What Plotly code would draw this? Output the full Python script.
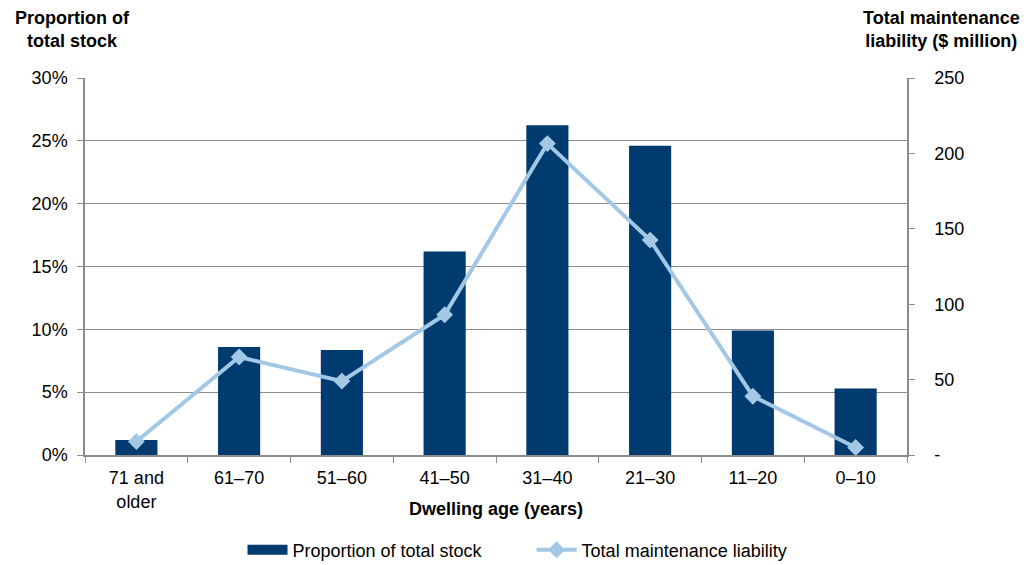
import plotly.graph_objects as go

categories = ["71 and<br>older", "61–70", "51–60", "41–50", "31–40", "21–30", "11–20", "0–10"]
stock_share = [1.2, 8.6, 8.35, 16.2, 26.25, 24.6, 9.9, 5.3]          # % of total stock
liability = [9, 65, 49, 93, 206.5, 142.5, 39, 5]                     # $ million

left_ticks = [0, 5, 10, 15, 20, 25, 30]
left_labels = ["0%", "5%", "10%", "15%", "20%", "25%", "30%"]
right_ticks = [0, 50, 100, 150, 200, 250]
right_labels = ["-", "50", "100", "150", "200", "250"]

BAR = "#003B6F"
LINE = "#A2C8E5"
GRID = "#8C8C8C"
FONT = "Liberation Sans, Arial, sans-serif"
FS = 18
PAD = "\u00a0" * 9

fig = go.Figure()
fig.add_trace(go.Bar(
    x=categories, y=stock_share, name="Proportion of total stock",
    marker=dict(color=BAR, line=dict(width=0)), width=0.41, yaxis="y",
    showlegend=False,
))
# legend swatch for the bars: a wide flat block
fig.add_trace(go.Scatter(
    x=[None], y=[None], name="Proportion of total stock" + PAD, mode="lines",
    line=dict(color=BAR, width=11), yaxis="y",
))
fig.add_trace(go.Scatter(
    x=categories, y=liability, name="Total maintenance liability",
    mode="lines+markers", line=dict(color=LINE, width=4),
    marker=dict(symbol="diamond", size=13, color=LINE), yaxis="y2",
))

fig.update_layout(
    width=1035, height=565,
    margin=dict(l=85, r=128, t=78, b=110, autoexpand=False),
    paper_bgcolor="white", plot_bgcolor="white",
    font=dict(family=FONT, size=FS, color="#000000"),
    showlegend=True,
    legend=dict(orientation="h", x=0.5, xanchor="center", xref="container",
                y=1 - 550 / 565, yanchor="middle", yref="container",
                font=dict(size=FS), traceorder="normal", itemwidth=40,
                tracegroupgap=0),
    xaxis=dict(
        showline=True, linecolor=GRID, linewidth=1.5,
        ticks="outside", tickson="boundaries", ticklen=6, tickcolor=GRID,
        tickfont=dict(size=FS), showgrid=False, ticklabelstandoff=6,
    ),
    yaxis=dict(
        range=[0, 30], tickvals=left_ticks, ticktext=left_labels,
        showgrid=True, gridcolor=GRID, gridwidth=1,
        showline=True, linecolor=GRID, linewidth=1.5,
        ticks="outside", ticklen=6, tickcolor=GRID, tickfont=dict(size=FS),
        ticklabelstandoff=6, zeroline=False,
    ),
    yaxis2=dict(
        range=[0, 250], tickvals=right_ticks, ticktext=right_labels,
        overlaying="y", side="right", showgrid=False,
        showline=True, linecolor=GRID, linewidth=1.5,
        ticks="outside", ticklen=6, tickcolor=GRID, tickfont=dict(size=FS),
        ticklabelstandoff=16, zeroline=False,
    ),
    annotations=[
        dict(text="<b>Proportion of<br>total stock</b>", xref="paper", yref="paper",
             x=(72 - 85) / 822, y=(455 - 30) / 377, xanchor="center", yanchor="middle",
             showarrow=False, font=dict(size=FS), align="center"),
        dict(text="<b>Total maintenance<br>liability ($ million)</b>", xref="paper", yref="paper",
             x=(942 - 85) / 822, y=(455 - 30) / 377, xanchor="center", yanchor="middle",
             showarrow=False, font=dict(size=FS), align="center"),
        dict(text="<b>Dwelling age (years)</b>", xref="paper", yref="paper",
             x=0.5, y=(455 - 509) / 377, xanchor="center", yanchor="middle",
             showarrow=False, font=dict(size=FS)),
    ],
)

fig.write_html("out.html")
